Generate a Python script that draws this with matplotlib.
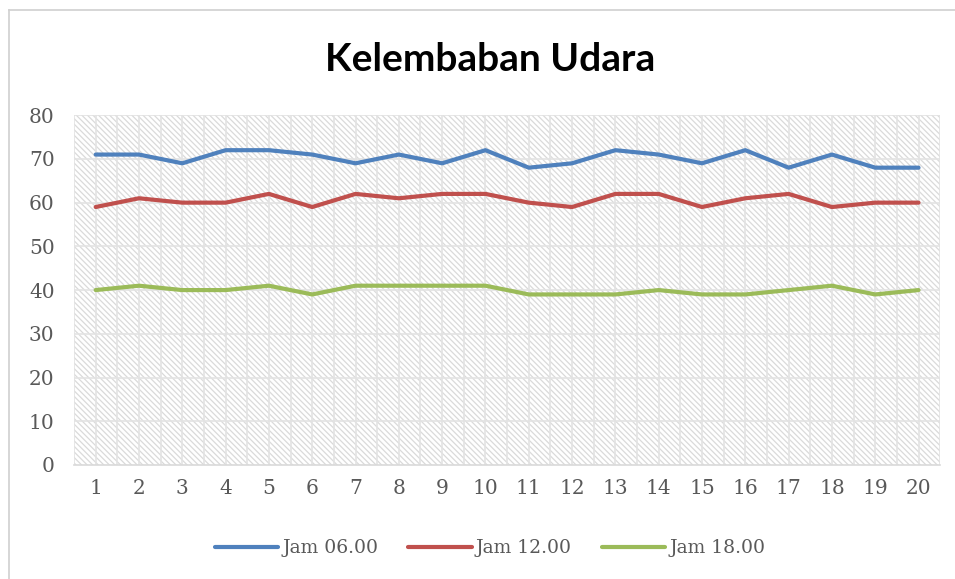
import matplotlib
matplotlib.use("Agg")
import matplotlib.pyplot as plt
from matplotlib.patches import Rectangle

# data
hari = list(range(1, 21))
jam06 = [71, 71, 69, 72, 72, 71, 69, 71, 69, 72, 68, 69, 72, 71, 69, 72, 68, 71, 68, 68]
jam12 = [59, 61, 60, 60, 62, 59, 62, 61, 62, 62, 60, 59, 62, 62, 59, 61, 62, 59, 60, 60]
jam18 = [40, 41, 40, 40, 41, 39, 41, 41, 41, 41, 39, 39, 39, 40, 39, 39, 40, 41, 39, 40]
labels = ["Jam 06.00", "Jam 12.00", "Jam 18.00"]

BLUE = "#4F81BD"
RED = "#C0504D"
GREEN = "#9BBB59"
TEXT = "#595959"
GRID = "#e3e3e3"

plt.rcParams["hatch.color"] = "#dadada"
plt.rcParams["hatch.linewidth"] = 0.9

fig = plt.figure(figsize=(9.55, 5.79), dpi=100)
fig.patch.set_facecolor("white")

# chart-area border (only left and top visible in reference)
fig.add_artist(plt.Line2D([0.009, 0.009], [0.0, 0.983], transform=fig.transFigure, color="#d0d0d0", lw=1.2))
fig.add_artist(plt.Line2D([0.009, 1.0], [0.983, 0.983], transform=fig.transFigure, color="#d0d0d0", lw=1.2))

ax = fig.add_axes([0.0775, 0.197, 0.907, 0.604])
ax.set_xlim(0.5, 20.5)
ax.set_ylim(0, 80)

# hatched plot area
ax.add_patch(Rectangle((0, 0), 1, 1, transform=ax.transAxes, facecolor="white",
                       edgecolor="#dadada", hatch="\\" * 6, lw=0, zorder=0))

for y in range(10, 81, 10):
    ax.axhline(y, color=GRID, lw=1.2, zorder=1)
for i in range(0, 41):
    ax.axvline(0.5 + i * 0.5, color=GRID, lw=1.2, zorder=1)

ax.plot(hari, jam06, color=BLUE, lw=3, label=labels[0], zorder=3, solid_capstyle="round")
ax.plot(hari, jam12, color=RED, lw=3, label=labels[1], zorder=3, solid_capstyle="round")
ax.plot(hari, jam18, color=GREEN, lw=3, label=labels[2], zorder=3, solid_capstyle="round")

for s in ["top", "right", "left"]:
    ax.spines[s].set_visible(False)
ax.spines["bottom"].set_color("#d9d9d9")
ax.spines["bottom"].set_linewidth(1.2)

ax.set_xticks(hari)
ax.set_yticks(range(0, 81, 10))
ax.tick_params(length=0, pad=10, labelsize=14.5, labelcolor=TEXT)
for lab in ax.get_xticklabels() + ax.get_yticklabels():
    lab.set_fontfamily("DejaVu Serif")
ax.tick_params(axis="y", pad=14)

fig.text(0.513, 0.897, "Kelembaban Udara", ha="center", va="center",
         fontsize=28, fontweight="bold", family="Lato", color="black")

leg = fig.legend(loc="center", bbox_to_anchor=(0.513, 0.053), ncol=3, frameon=False,
                 prop={"family": "DejaVu Serif", "size": 13.5}, handlelength=3.4,
                 handletextpad=0.2, columnspacing=1.6)
for t in leg.get_texts():
    t.set_color(TEXT)

fig.savefig("out.png", dpi=100, facecolor="white")
